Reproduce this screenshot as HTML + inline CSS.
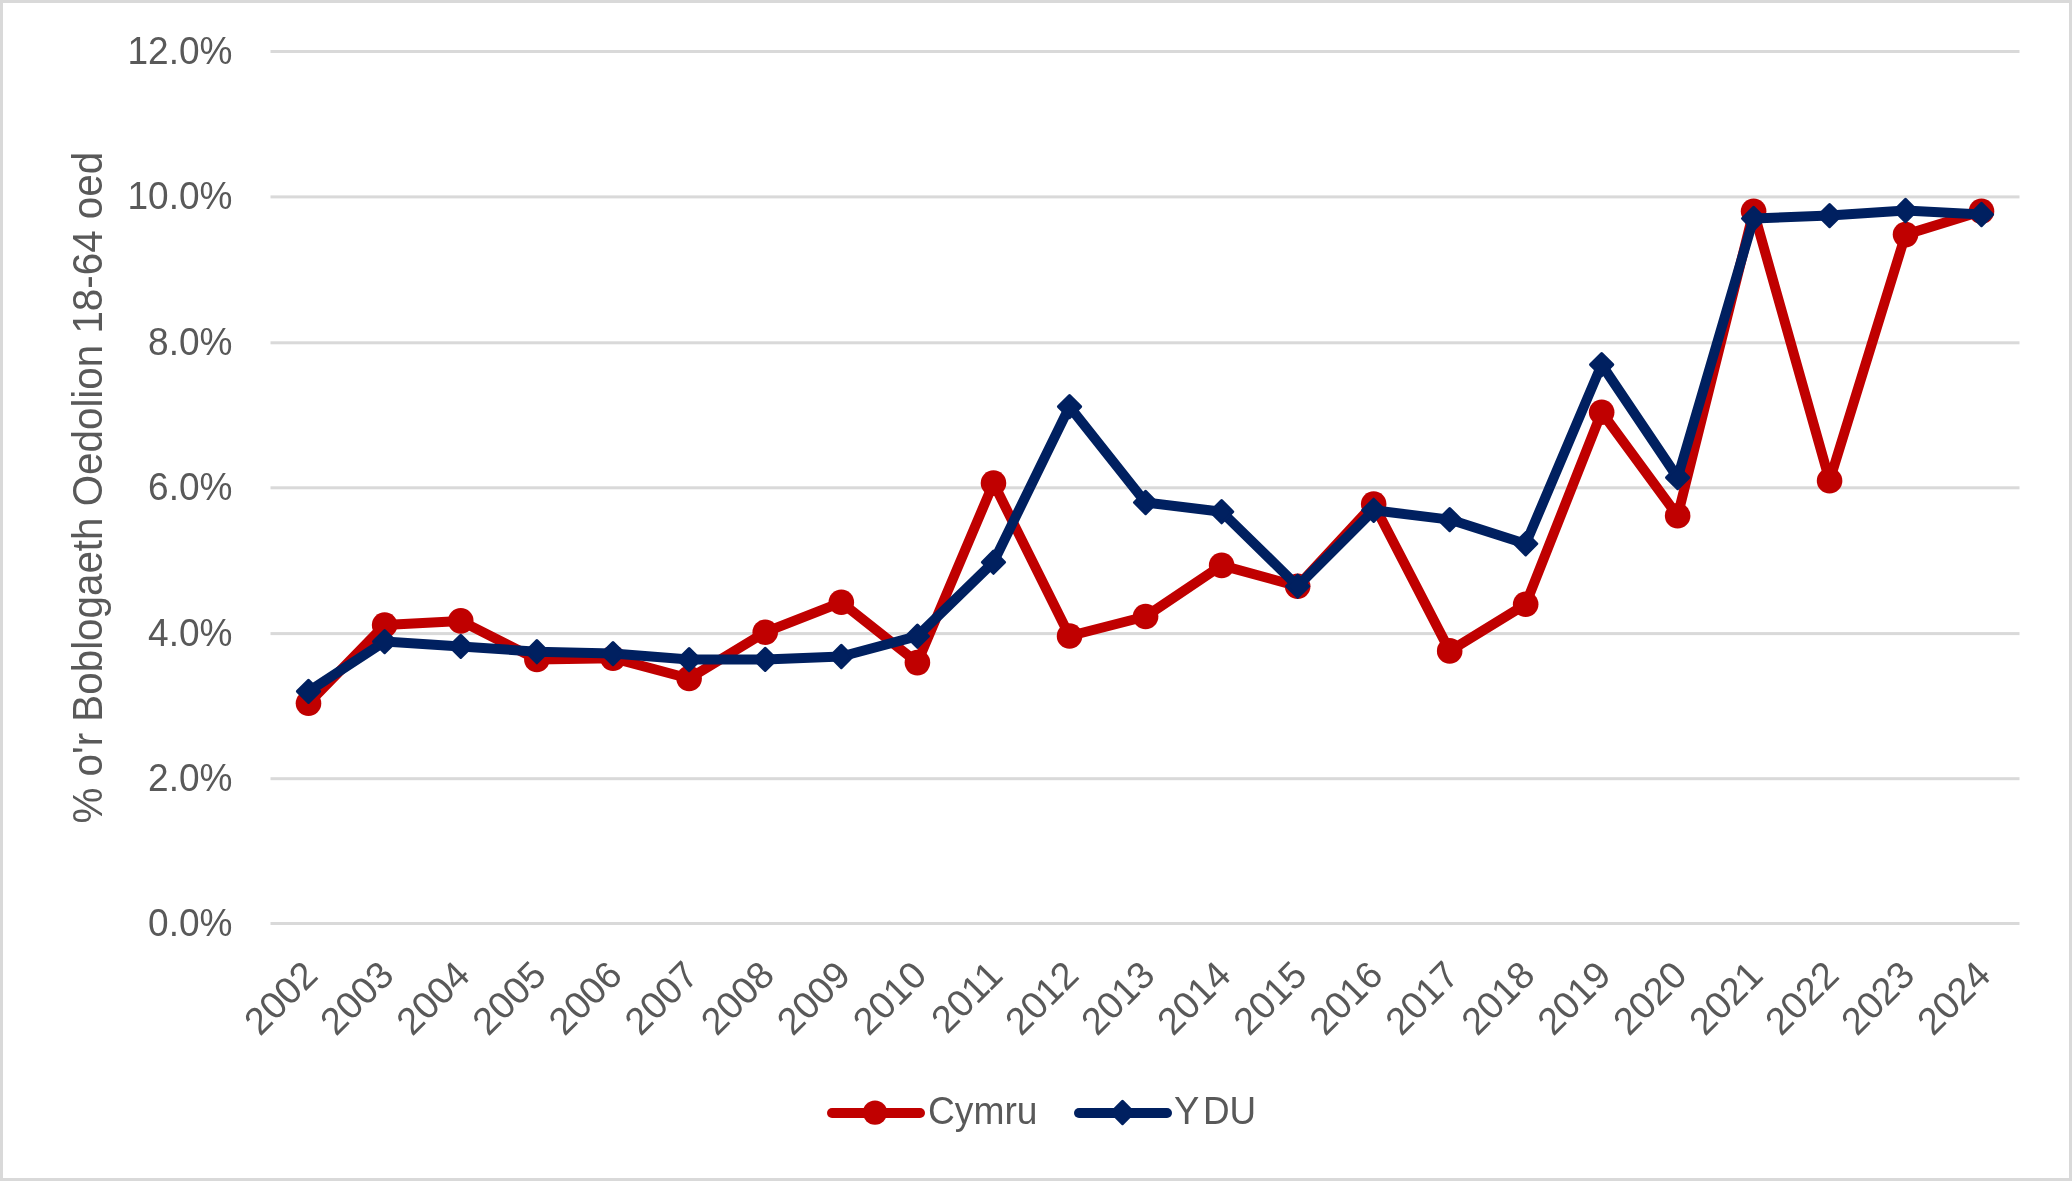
<!DOCTYPE html><html><head><meta charset="utf-8"><style>html,body{margin:0;padding:0;background:#fff;}svg{display:block;will-change:transform;}text{font-family:"Liberation Sans",sans-serif;fill:#595959;}</style></head><body>
<svg width="2072" height="1181" viewBox="0 0 2072 1181">
<rect x="1.5" y="1.5" width="2069" height="1178" fill="#fff" stroke="#D9D9D9" stroke-width="3"/>
<rect x="270.5" y="922.00" width="1749.0" height="3" fill="#D9D9D9"/>
<rect x="270.5" y="777.20" width="1749.0" height="3" fill="#D9D9D9"/>
<rect x="270.5" y="632.10" width="1749.0" height="3" fill="#D9D9D9"/>
<rect x="270.5" y="486.30" width="1749.0" height="3" fill="#D9D9D9"/>
<rect x="270.5" y="341.30" width="1749.0" height="3" fill="#D9D9D9"/>
<rect x="270.5" y="195.40" width="1749.0" height="3" fill="#D9D9D9"/>
<rect x="270.5" y="50.00" width="1749.0" height="3" fill="#D9D9D9"/>
<text transform="translate(232.5,935.9) scale(0.9750,1)" font-size="38" text-anchor="end">0.0%</text>
<text transform="translate(232.5,791.1) scale(0.9750,1)" font-size="38" text-anchor="end">2.0%</text>
<text transform="translate(232.5,646.0) scale(0.9750,1)" font-size="38" text-anchor="end">4.0%</text>
<text transform="translate(232.5,500.2) scale(0.9750,1)" font-size="38" text-anchor="end">6.0%</text>
<text transform="translate(232.5,355.2) scale(0.9750,1)" font-size="38" text-anchor="end">8.0%</text>
<text transform="translate(232.5,209.3) scale(0.9750,1)" font-size="38" text-anchor="end">10.0%</text>
<text transform="translate(232.5,63.9) scale(0.9750,1)" font-size="38" text-anchor="end">12.0%</text>
<text transform="translate(101.5,487.7) rotate(-90) scale(0.9610,1)" font-size="42.0" text-anchor="middle">% o'r Boblogaeth Oedolion 18-64 oed</text>
<text transform="translate(300.5,958.0) rotate(-45)" font-size="38" text-anchor="end" dominant-baseline="hanging">2002</text>
<text transform="translate(376.6,958.0) rotate(-45)" font-size="38" text-anchor="end" dominant-baseline="hanging">2003</text>
<text transform="translate(452.8,958.0) rotate(-45)" font-size="38" text-anchor="end" dominant-baseline="hanging">2004</text>
<text transform="translate(528.9,958.0) rotate(-45)" font-size="38" text-anchor="end" dominant-baseline="hanging">2005</text>
<text transform="translate(605.0,958.0) rotate(-45)" font-size="38" text-anchor="end" dominant-baseline="hanging">2006</text>
<text transform="translate(681.1,958.0) rotate(-45)" font-size="38" text-anchor="end" dominant-baseline="hanging">2007</text>
<text transform="translate(757.2,958.0) rotate(-45)" font-size="38" text-anchor="end" dominant-baseline="hanging">2008</text>
<text transform="translate(833.3,958.0) rotate(-45)" font-size="38" text-anchor="end" dominant-baseline="hanging">2009</text>
<text transform="translate(909.4,958.0) rotate(-45)" font-size="38" text-anchor="end" dominant-baseline="hanging">2010</text>
<text transform="translate(985.5,958.0) rotate(-45)" font-size="38" text-anchor="end" dominant-baseline="hanging">2011</text>
<text transform="translate(1061.5,958.0) rotate(-45)" font-size="38" text-anchor="end" dominant-baseline="hanging">2012</text>
<text transform="translate(1137.6,958.0) rotate(-45)" font-size="38" text-anchor="end" dominant-baseline="hanging">2013</text>
<text transform="translate(1213.6,958.0) rotate(-45)" font-size="38" text-anchor="end" dominant-baseline="hanging">2014</text>
<text transform="translate(1289.7,958.0) rotate(-45)" font-size="38" text-anchor="end" dominant-baseline="hanging">2015</text>
<text transform="translate(1365.7,958.0) rotate(-45)" font-size="38" text-anchor="end" dominant-baseline="hanging">2016</text>
<text transform="translate(1441.7,958.0) rotate(-45)" font-size="38" text-anchor="end" dominant-baseline="hanging">2017</text>
<text transform="translate(1517.7,958.0) rotate(-45)" font-size="38" text-anchor="end" dominant-baseline="hanging">2018</text>
<text transform="translate(1593.7,958.0) rotate(-45)" font-size="38" text-anchor="end" dominant-baseline="hanging">2019</text>
<text transform="translate(1669.6,958.0) rotate(-45)" font-size="38" text-anchor="end" dominant-baseline="hanging">2020</text>
<text transform="translate(1745.6,958.0) rotate(-45)" font-size="38" text-anchor="end" dominant-baseline="hanging">2021</text>
<text transform="translate(1821.6,958.0) rotate(-45)" font-size="38" text-anchor="end" dominant-baseline="hanging">2022</text>
<text transform="translate(1897.5,958.0) rotate(-45)" font-size="38" text-anchor="end" dominant-baseline="hanging">2023</text>
<text transform="translate(1973.5,958.0) rotate(-45)" font-size="38" text-anchor="end" dominant-baseline="hanging">2024</text>
<polyline points="308.50,703.30 384.63,625.05 460.76,620.90 536.88,659.40 613.00,658.20 689.12,678.50 765.22,632.20 841.32,602.30 917.41,662.60 993.48,483.10 1069.54,636.00 1145.59,616.50 1221.63,565.40 1297.66,586.20 1373.68,504.10 1449.68,650.90 1525.67,604.30 1601.66,412.20 1677.63,515.80 1753.60,211.30 1829.57,480.70 1905.53,234.60 1981.49,211.30" fill="none" stroke="#C00000" stroke-width="10.0" stroke-linejoin="round" stroke-linecap="round"/>
<circle cx="308.50" cy="703.30" r="12.8" fill="#C00000"/>
<circle cx="384.63" cy="625.05" r="12.8" fill="#C00000"/>
<circle cx="460.76" cy="620.90" r="12.8" fill="#C00000"/>
<circle cx="536.88" cy="659.40" r="12.8" fill="#C00000"/>
<circle cx="613.00" cy="658.20" r="12.8" fill="#C00000"/>
<circle cx="689.12" cy="678.50" r="12.8" fill="#C00000"/>
<circle cx="765.22" cy="632.20" r="12.8" fill="#C00000"/>
<circle cx="841.32" cy="602.30" r="12.8" fill="#C00000"/>
<circle cx="917.41" cy="662.60" r="12.8" fill="#C00000"/>
<circle cx="993.48" cy="483.10" r="12.8" fill="#C00000"/>
<circle cx="1069.54" cy="636.00" r="12.8" fill="#C00000"/>
<circle cx="1145.59" cy="616.50" r="12.8" fill="#C00000"/>
<circle cx="1221.63" cy="565.40" r="12.8" fill="#C00000"/>
<circle cx="1297.66" cy="586.20" r="12.8" fill="#C00000"/>
<circle cx="1373.68" cy="504.10" r="12.8" fill="#C00000"/>
<circle cx="1449.68" cy="650.90" r="12.8" fill="#C00000"/>
<circle cx="1525.67" cy="604.30" r="12.8" fill="#C00000"/>
<circle cx="1601.66" cy="412.20" r="12.8" fill="#C00000"/>
<circle cx="1677.63" cy="515.80" r="12.8" fill="#C00000"/>
<circle cx="1753.60" cy="211.30" r="12.8" fill="#C00000"/>
<circle cx="1829.57" cy="480.70" r="12.8" fill="#C00000"/>
<circle cx="1905.53" cy="234.60" r="12.8" fill="#C00000"/>
<circle cx="1981.49" cy="211.30" r="12.8" fill="#C00000"/>
<polyline points="308.50,691.40 384.63,641.60 460.76,646.40 536.88,651.70 613.00,653.60 689.12,659.60 765.22,659.40 841.32,656.50 917.41,636.20 993.48,562.20 1069.54,406.60 1145.59,502.50 1221.63,511.70 1297.66,586.20 1373.68,510.30 1449.68,519.60 1525.67,543.80 1601.66,364.60 1677.63,477.60 1753.60,218.50 1829.57,215.60 1905.53,210.50 1981.49,214.50" fill="none" stroke="#002060" stroke-width="10.0" stroke-linejoin="round" stroke-linecap="round"/>
<path d="M308.50 680.30L319.60 691.40L308.50 702.50L297.40 691.40Z" fill="#002060" stroke="#002060" stroke-width="3" stroke-linejoin="round"/>
<path d="M384.63 630.50L395.73 641.60L384.63 652.70L373.53 641.60Z" fill="#002060" stroke="#002060" stroke-width="3" stroke-linejoin="round"/>
<path d="M460.76 635.30L471.86 646.40L460.76 657.50L449.66 646.40Z" fill="#002060" stroke="#002060" stroke-width="3" stroke-linejoin="round"/>
<path d="M536.88 640.60L547.98 651.70L536.88 662.80L525.78 651.70Z" fill="#002060" stroke="#002060" stroke-width="3" stroke-linejoin="round"/>
<path d="M613.00 642.50L624.10 653.60L613.00 664.70L601.90 653.60Z" fill="#002060" stroke="#002060" stroke-width="3" stroke-linejoin="round"/>
<path d="M689.12 648.50L700.22 659.60L689.12 670.70L678.02 659.60Z" fill="#002060" stroke="#002060" stroke-width="3" stroke-linejoin="round"/>
<path d="M765.22 648.30L776.32 659.40L765.22 670.50L754.12 659.40Z" fill="#002060" stroke="#002060" stroke-width="3" stroke-linejoin="round"/>
<path d="M841.32 645.40L852.42 656.50L841.32 667.60L830.22 656.50Z" fill="#002060" stroke="#002060" stroke-width="3" stroke-linejoin="round"/>
<path d="M917.41 625.10L928.51 636.20L917.41 647.30L906.31 636.20Z" fill="#002060" stroke="#002060" stroke-width="3" stroke-linejoin="round"/>
<path d="M993.48 551.10L1004.58 562.20L993.48 573.30L982.38 562.20Z" fill="#002060" stroke="#002060" stroke-width="3" stroke-linejoin="round"/>
<path d="M1069.54 395.50L1080.64 406.60L1069.54 417.70L1058.44 406.60Z" fill="#002060" stroke="#002060" stroke-width="3" stroke-linejoin="round"/>
<path d="M1145.59 491.40L1156.69 502.50L1145.59 513.60L1134.49 502.50Z" fill="#002060" stroke="#002060" stroke-width="3" stroke-linejoin="round"/>
<path d="M1221.63 500.60L1232.73 511.70L1221.63 522.80L1210.53 511.70Z" fill="#002060" stroke="#002060" stroke-width="3" stroke-linejoin="round"/>
<path d="M1297.66 575.10L1308.76 586.20L1297.66 597.30L1286.56 586.20Z" fill="#002060" stroke="#002060" stroke-width="3" stroke-linejoin="round"/>
<path d="M1373.68 499.20L1384.78 510.30L1373.68 521.40L1362.58 510.30Z" fill="#002060" stroke="#002060" stroke-width="3" stroke-linejoin="round"/>
<path d="M1449.68 508.50L1460.78 519.60L1449.68 530.70L1438.58 519.60Z" fill="#002060" stroke="#002060" stroke-width="3" stroke-linejoin="round"/>
<path d="M1525.67 532.70L1536.77 543.80L1525.67 554.90L1514.57 543.80Z" fill="#002060" stroke="#002060" stroke-width="3" stroke-linejoin="round"/>
<path d="M1601.66 353.50L1612.76 364.60L1601.66 375.70L1590.56 364.60Z" fill="#002060" stroke="#002060" stroke-width="3" stroke-linejoin="round"/>
<path d="M1677.63 466.50L1688.73 477.60L1677.63 488.70L1666.53 477.60Z" fill="#002060" stroke="#002060" stroke-width="3" stroke-linejoin="round"/>
<path d="M1753.60 207.40L1764.70 218.50L1753.60 229.60L1742.50 218.50Z" fill="#002060" stroke="#002060" stroke-width="3" stroke-linejoin="round"/>
<path d="M1829.57 204.50L1840.67 215.60L1829.57 226.70L1818.47 215.60Z" fill="#002060" stroke="#002060" stroke-width="3" stroke-linejoin="round"/>
<path d="M1905.53 199.40L1916.63 210.50L1905.53 221.60L1894.43 210.50Z" fill="#002060" stroke="#002060" stroke-width="3" stroke-linejoin="round"/>
<path d="M1981.49 203.40L1992.59 214.50L1981.49 225.60L1970.39 214.50Z" fill="#002060" stroke="#002060" stroke-width="3" stroke-linejoin="round"/>
<line x1="832" y1="1113" x2="920" y2="1113" stroke="#C00000" stroke-width="10" stroke-linecap="round"/>
<circle cx="875" cy="1112.6" r="12.15" fill="#C00000"/>
<text transform="translate(928.0,1124.1) scale(0.9790,1)" font-size="38">Cymru</text>
<line x1="1079" y1="1113" x2="1167" y2="1113" stroke="#002060" stroke-width="10" stroke-linecap="round"/>
<path d="M1122.50 1101.40L1133.60 1112.50L1122.50 1123.60L1111.40 1112.50Z" fill="#002060" stroke="#002060" stroke-width="3" stroke-linejoin="round"/>
<text transform="translate(1174.0,1124.1) scale(1.0000,1)" font-size="38">Y</text>
<text transform="translate(1203.0,1124.1) scale(0.9700,1)" font-size="38">DU</text>
</svg></body></html>
